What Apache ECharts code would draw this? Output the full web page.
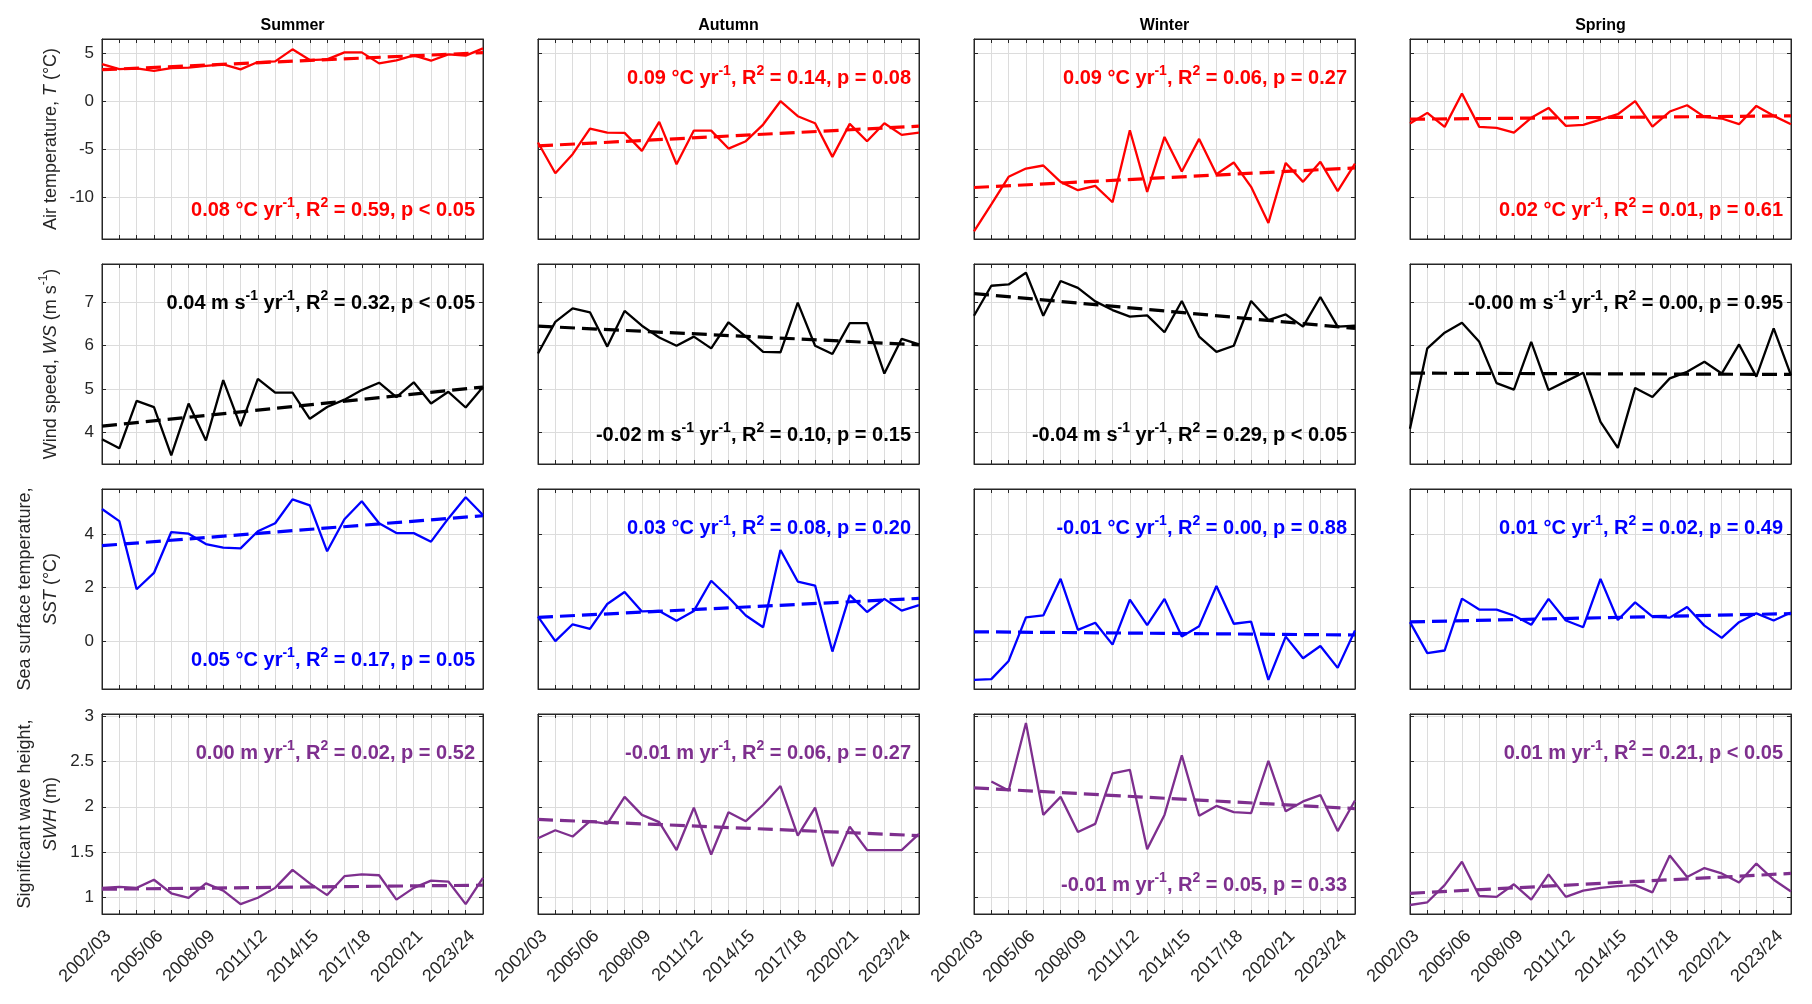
<!DOCTYPE html>
<html>
<head>
<meta charset="utf-8">
<script src="https://cdn.jsdelivr.net/npm/echarts@6/dist/echarts.min.js"></script>
<style>
html,body{margin:0;padding:0;background:#fff;}
#chart{width:1812px;height:1004px;}
</style>
</head>
<body>
<div id="chart"></div>
<script>
// ---------------- data ----------------
const seasons = ['Summer', 'Autumn', 'Winter', 'Spring'];
const years = ['2002/03','2003/04','2004/05','2005/06','2006/07','2007/08','2008/09','2009/10','2010/11','2011/12',
  '2012/13','2013/14','2014/15','2015/16','2016/17','2017/18','2018/19','2019/20','2020/21','2021/22','2022/23','2023/24','2024/25'];

const airTempSummer = [3.88,3.36,3.43,3.18,3.46,3.50,3.70,3.85,3.32,4.09,4.16,5.42,4.30,4.37,5.10,5.10,3.95,4.27,4.79,4.23,4.90,4.76,5.52];
const airTempAutumn = [-4.32,-7.53,-5.54,-2.86,-3.28,-3.31,-5.19,-2.16,-6.59,-3.07,-3.07,-4.95,-4.18,-2.44,0.00,-1.57,-2.30,-5.82,-2.37,-4.18,-2.30,-3.52,-3.28];
const airTempWinter = [-13.60,-10.77,-7.90,-7.04,-6.72,-8.43,-9.30,-8.85,-10.56,-3.03,-9.48,-3.73,-7.35,-3.94,-7.63,-6.41,-8.95,-12.72,-6.45,-8.43,-6.34,-9.40,-6.52];
const airTempSpring = [-2.33,-1.22,-2.68,0.80,-2.68,-2.79,-3.28,-1.74,-0.70,-2.58,-2.47,-1.92,-1.36,0.00,-2.65,-1.08,-0.42,-1.64,-1.81,-2.40,-0.49,-1.53,-2.40];

const windSummer = [3.85,3.64,4.73,4.59,3.48,4.67,3.82,5.21,4.15,5.24,4.92,4.92,4.32,4.59,4.76,4.98,5.15,4.82,5.16,4.67,4.94,4.58,5.05];
const windAutumn = [5.82,6.55,6.86,6.77,5.98,6.80,6.46,6.19,6.00,6.21,5.94,6.54,6.21,5.86,5.85,6.99,6.00,5.81,6.52,6.52,5.36,6.16,6.03];
const windWinter = [6.69,7.38,7.41,7.68,6.69,7.49,7.33,7.02,6.82,6.67,6.70,6.31,7.03,6.21,5.86,6.00,7.03,6.59,6.72,6.44,7.12,6.44,6.46];
const windSpring = [4.09,5.94,6.30,6.53,6.09,5.14,4.99,6.09,4.98,5.18,5.38,4.25,3.65,5.03,4.82,5.25,5.40,5.63,5.36,6.03,5.29,6.40,5.32];

const sstSummer = [4.93,4.48,1.93,2.54,4.07,4.01,3.62,3.49,3.46,4.10,4.40,5.29,5.07,3.35,4.55,5.22,4.40,4.03,4.03,3.71,4.58,5.37,4.71];
const sstAutumn = [0.91,-0.01,0.62,0.45,1.38,1.83,1.10,1.12,0.75,1.12,2.25,1.63,0.95,0.51,3.40,2.22,2.07,-0.40,1.71,1.08,1.57,1.13,1.34];
const sstWinter = [-1.46,-1.43,-0.75,0.88,0.95,2.32,0.41,0.68,-0.14,1.54,0.59,1.57,0.16,0.55,2.05,0.64,0.72,-1.46,0.16,-0.65,-0.19,-1.01,0.39];
const sstSpring = [0.70,-0.46,-0.36,1.58,1.17,1.17,0.95,0.60,1.57,0.76,0.51,2.32,0.78,1.44,0.91,0.87,1.27,0.57,0.11,0.70,1.03,0.76,1.06];

const swhSummer = [1.10,1.11,1.10,1.19,1.04,0.99,1.15,1.07,0.92,0.99,1.10,1.30,1.15,1.02,1.23,1.25,1.24,0.97,1.10,1.18,1.17,0.92,1.21];
const swhAutumn = [1.65,1.74,1.67,1.84,1.81,2.11,1.91,1.83,1.52,1.99,1.47,1.94,1.84,2.02,2.23,1.68,1.99,1.34,1.78,1.52,1.52,1.52,1.70];
const swhWinter = [null,2.28,2.18,2.93,1.91,2.11,1.72,1.81,2.37,2.41,1.53,1.91,2.57,1.90,2.01,1.94,1.93,2.51,1.95,2.06,2.13,1.73,2.07];
const swhSpring = [0.91,0.94,1.13,1.39,1.01,1.00,1.14,0.97,1.25,1.00,1.07,1.10,1.12,1.13,1.05,1.46,1.22,1.32,1.26,1.16,1.37,1.19,1.06];

// linear trend end points [first season, last season] (Summer, Autumn, Winter, Spring)
const airTempTrend = [[3.29,5.07],[-4.67,-2.61],[-9.02,-6.97],[-1.88,-1.53]];
const windTrend    = [[4.15,5.05],[6.45,6.02],[7.20,6.40],[5.37,5.34]];
const sstTrend     = [[3.56,4.68],[0.88,1.59],[0.34,0.22],[0.71,1.02]];
const swhTrend     = [[1.085,1.13],[1.86,1.68],[2.21,1.98],[1.04,1.26]];

// trend statistics texts
const airTempNotes = ['0.08 °C yr^-1, R^2 = 0.59, p < 0.05','0.09 °C yr^-1, R^2 = 0.14, p = 0.08','0.09 °C yr^-1, R^2 = 0.06, p = 0.27','0.02 °C yr^-1, R^2 = 0.01, p = 0.61'];
const windNotes    = ['0.04 m s^-1 yr^-1, R^2 = 0.32, p < 0.05','-0.02 m s^-1 yr^-1, R^2 = 0.10, p = 0.15','-0.04 m s^-1 yr^-1, R^2 = 0.29, p < 0.05','-0.00 m s^-1 yr^-1, R^2 = 0.00, p = 0.95'];
const sstNotes     = ['0.05 °C yr^-1, R^2 = 0.17, p = 0.05','0.03 °C yr^-1, R^2 = 0.08, p = 0.20','-0.01 °C yr^-1, R^2 = 0.00, p = 0.88','0.01 °C yr^-1, R^2 = 0.02, p = 0.49'];
const swhNotes     = ['0.00 m yr^-1, R^2 = 0.02, p = 0.52','-0.01 m yr^-1, R^2 = 0.06, p = 0.27','-0.01 m yr^-1, R^2 = 0.05, p = 0.33','0.01 m yr^-1, R^2 = 0.21, p < 0.05'];
const airTempNotePos = ['bottom','top','top','bottom'];
const windNotePos    = ['top','bottom','bottom','top'];
const sstNotePos     = ['bottom','top','top','top'];
const swhNotePos     = ['top','top','bottom','top'];

const yTitles = ['Air temperature, {i|T} (°C)', 'Wind speed, {i|WS} (m s{s|-1})', 'Sea surface temperature,\n{i|SST} (°C)', 'Significant wave height,\n{i|SWH} (m)'];
const yMin = [-14.4, 3.28, -1.8, 0.81];
const yMax = [6.5, 7.88, 5.68, 3.03];
const yStep = [5, 1, 2, 0.5];

// ---------------- layout / style ----------------
const FONT = '"Liberation Sans", Arial, Helvetica, sans-serif';
const AX = '#262626';
const GRIDC = '#dcdcdc';
const colors = ['#ff0000', '#000000', '#0000ff', '#7e2f8e'];
const colLeft = [102, 538, 974, 1410];
const rowTop = [39, 264, 489, 714];
const PW = 381, PH = 200;

const rowValues = [
  [airTempSummer, airTempAutumn, airTempWinter, airTempSpring],
  [windSummer, windAutumn, windWinter, windSpring],
  [sstSummer, sstAutumn, sstWinter, sstSpring],
  [swhSummer, swhAutumn, swhWinter, swhSpring]
];
const rowTrends = [airTempTrend, windTrend, sstTrend, swhTrend];
const rowNotes = [airTempNotes, windNotes, sstNotes, swhNotes];
const rowNotePos = [airTempNotePos, windNotePos, sstNotePos, swhNotePos];

const grids = [], xAxes = [], yAxes = [], series = [], graphics = [];

for (let r = 0; r < 4; r++) {
  for (let c = 0; c < 4; c++) {
    const k = r * 4 + c;
    grids.push({left: colLeft[c], top: rowTop[r], width: PW, height: PH, show: true,
      borderColor: AX, borderWidth: 1, backgroundColor: 'rgba(0,0,0,0)'});
    const tickStyle = {show: true, inside: true, length: 4, lineStyle: {color: AX, width: 1}};
    // bottom x
    xAxes.push({type: 'value', gridIndex: k, min: 0, max: 22, interval: 1, position: 'bottom',
      axisLine: {show: true, onZero: false, lineStyle: {color: AX, width: 1}},
      axisTick: tickStyle,
      axisLabel: {show: r === 3, rotate: 45, margin: 13, fontSize: 18, color: AX, fontFamily: FONT,
        align: 'right', verticalAlign: 'top',
        formatter: v => { const i = Math.round(v); return i % 3 === 0 ? years[i] : ''; }},
      splitLine: {show: true, lineStyle: {color: GRIDC, width: 1}}});
    // top x (ticks only)
    xAxes.push({type: 'value', gridIndex: k, min: 0, max: 22, interval: 1, position: 'top',
      axisLine: {show: true, onZero: false, lineStyle: {color: AX, width: 1}},
      axisTick: tickStyle, axisLabel: {show: false}, splitLine: {show: false}});
    const step = yStep[r];
    const yl = {type: 'value', gridIndex: k, min: yMin[r], max: yMax[r], minInterval: step, maxInterval: step,
      position: 'left',
      axisLine: {show: true, onZero: false, lineStyle: {color: AX, width: 1}},
      axisTick: tickStyle,
      axisLabel: {show: c === 0, margin: 8, fontSize: 17, color: AX, fontFamily: FONT,
        formatter: v => { const q = v / step; return Math.abs(q - Math.round(q)) < 1e-6 ? String(Math.round(q * step * 100) / 100) : ''; }},
      splitLine: {show: true, lineStyle: {color: GRIDC, width: 1}}};
    if (c === 0) {
      Object.assign(yl, {name: yTitles[r], nameLocation: 'middle', nameGap: 38, nameRotate: 90,
        nameTextStyle: {fontSize: 18, color: AX, fontFamily: FONT, lineHeight: 26,
          rich: {i: {fontSize: 18, fontStyle: 'italic', color: AX, fontFamily: FONT, lineHeight: 26},
                 s: {fontSize: 12, color: AX, fontFamily: FONT, verticalAlign: 'top', lineHeight: 14}}}});
    }
    yAxes.push(yl);
    yAxes.push({type: 'value', gridIndex: k, min: yMin[r], max: yMax[r], minInterval: step, maxInterval: step,
      position: 'right',
      axisLine: {show: true, onZero: false, lineStyle: {color: AX, width: 1}},
      axisTick: tickStyle, axisLabel: {show: false}, splitLine: {show: false}});

    const vals = rowValues[r][c];
    series.push({type: 'line', xAxisIndex: 2 * k, yAxisIndex: 2 * k, showSymbol: false, symbol: 'none',
      data: vals.map((v, i) => [i, v]), connectNulls: false,
      lineStyle: {color: colors[r], width: 2.3}, itemStyle: {color: colors[r]}, z: 3, silent: true});
    const tr = rowTrends[r][c];
    series.push({type: 'line', xAxisIndex: 2 * k, yAxisIndex: 2 * k, showSymbol: false, symbol: 'none',
      data: [[0, tr[0]], [22, tr[1]]],
      lineStyle: {color: colors[r], width: 3.2, type: [15, 7]}, itemStyle: {color: colors[r]}, z: 4, silent: true});

    // annotation
    const txt = rowNotes[r][c].replace(/\^(-?\d)/g, '{s|$1}');
    const isTop = rowNotePos[r][c] === 'top';
    graphics.push({type: 'text', z: 100,
      x: colLeft[c] + PW - 8,
      y: isTop ? rowTop[r] + 39 : rowTop[r] + PH - 29,
      style: {text: txt, fill: colors[r], font: 'bold 20px ' + FONT, lineHeight: 28,
        textAlign: 'right', textVerticalAlign: 'middle',
        rich: {s: {fill: colors[r], font: 'bold 14px ' + FONT, verticalAlign: 'top', lineHeight: 13}}}});
  }
}
for (let c = 0; c < 4; c++) {
  graphics.push({type: 'text', z: 100, x: colLeft[c] + PW / 2, y: 26,
    style: {text: seasons[c], fill: '#000', font: 'bold 16px ' + FONT, textAlign: 'center', textVerticalAlign: 'middle'}});
}

const chart = echarts.init(document.getElementById('chart'), null, {renderer: 'canvas'});
chart.setOption({
  animation: false,
  backgroundColor: '#ffffff',
  grid: grids,
  xAxis: xAxes,
  yAxis: yAxes,
  series: series,
  graphic: {elements: graphics}
});
</script>
</body>
</html>
